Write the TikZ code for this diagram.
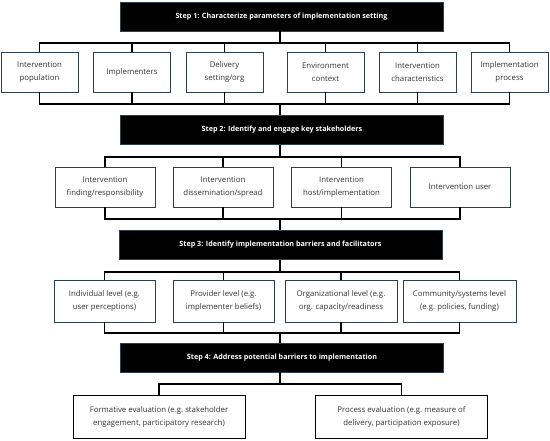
\documentclass[tikz,border=0pt]{standalone}
\usepackage{fontspec}
\setmainfont{Open Sans}
\definecolor{boxedge}{HTML}{2B3F4F}
\definecolor{boxtext}{HTML}{333333}
\begin{document}
\begin{tikzpicture}[x=1pt,y=-1pt,
  stepbox/.style={fill=black,draw=boxedge,line width=0.6pt,minimum width=323pt,minimum height=29pt,text=white,font=\fontsize{7.2}{9}\selectfont\bfseries,inner sep=0pt},
  itembox/.style={fill=white,draw=boxedge,line width=0.8pt,minimum height=40pt,align=center,text=boxtext,font=\fontsize{7.8}{13}\selectfont,inner sep=1pt},
  conn/.style={draw=black,line width=1.2pt}]
\useasboundingbox (0,0) rectangle (550,441);
% steps
\node[stepbox] (s1) at (281.5,16.5) {Step 1: Characterize parameters of implementation setting};
\node[stepbox] (s2) at (282,130) {Step 2: Identify and engage key stakeholders};
\node[stepbox] (s3) at (280.5,245) {Step 3: Identify implementation barriers and facilitators};
\node[stepbox] (s4) at (282,357.5) {Step 4: Address potential barriers to implementation};
% row 1
\node[itembox,minimum width=77pt] (a1) at (39.5,72) {Intervention\\population};
\node[itembox,minimum width=77pt] (a2) at (132,72) {Implementers};
\node[itembox,minimum width=77pt] (a3) at (224.5,72) {Delivery\\setting/org};
\node[itembox,minimum width=77pt] (a4) at (325.5,72) {Environment\\context};
\node[itembox,minimum width=77pt] (a5) at (417.5,72) {Intervention\\characteristics};
\node[itembox,minimum width=77pt] (a6) at (509.5,72) {Implementation\\process};
% row 2
\node[itembox,minimum width=100pt] (b1) at (105,187) {Intervention\\finding/responsibility};
\node[itembox,minimum width=100pt] (b2) at (223,187) {Intervention\\dissemination/spread};
\node[itembox,minimum width=100pt] (b3) at (341.5,187) {Intervention\\host/implementation};
\node[itembox,minimum width=100pt] (b4) at (460,187) {Intervention user};
% row 3
\node[itembox,minimum width=101pt,minimum height=42pt] (c1) at (104.5,301) {Individual level (e.g.\\user perceptions)};
\node[itembox,minimum width=101pt,minimum height=42pt] (c2) at (223.5,301) {Provider level (e.g.\\implementer beliefs)};
\node[itembox,minimum width=112pt,minimum height=42pt] (c3) at (341,301) {Organizational level (e.g.\\org. capacity/readiness};
\node[itembox,minimum width=113pt,minimum height=42pt] (c4) at (459.5,301) {Community/systems level\\(e.g.\ policies, funding)};
% row 4
\node[itembox,draw=black,minimum width=172pt,minimum height=43pt] (d1) at (159,416.5) {Formative evaluation (e.g.\ stakeholder\\engagement, participatory research)};
\node[itembox,draw=black,minimum width=172pt,minimum height=43pt] (d2) at (401.5,416.5) {Process evaluation (e.g.\ measure of\\delivery, participation exposure)};
% bus coordinates
\coordinate (t1) at (280,43);
\coordinate (u1) at (280,104);
\coordinate (t2) at (280,157);
\coordinate (u2) at (280,219);
\coordinate (t3) at (280,272);
\coordinate (u3) at (280,333);
\coordinate (t4) at (280,384);
% row 1 connectors
\draw[conn] (s1.south -| t1) -- (t1);
\draw[conn] (a1.north) -- (a1.north |- t1) -- (a6.north |- t1) -- (a6.north);
\foreach \n in {a2,a3,a4,a5} \draw[conn] (\n.north) -- (\n.north |- t1);
\draw[conn] (a1.south) -- (a1.south |- u1) -- (a6.south |- u1) -- (a6.south);
\foreach \n in {a2,a3,a4,a5} \draw[conn] (\n.south) -- (\n.south |- u1);
\draw[conn] (u1) -- (s2.north -| u1);
% row 2
\draw[conn] (s2.south -| t2) -- (t2);
\draw[conn] (b1.north) -- (b1.north |- t2) -- (b4.north |- t2) -- (b4.north);
\foreach \n in {b2,b3} \draw[conn] (\n.north) -- (\n.north |- t2);
\draw[conn] (b1.south) -- (b1.south |- u2) -- (b4.south |- u2) -- (b4.south);
\foreach \n in {b2,b3} \draw[conn] (\n.south) -- (\n.south |- u2);
\draw[conn] (u2) -- (s3.north -| u2);
% row 3
\draw[conn] (s3.south -| t3) -- (t3);
\draw[conn] (c1.north) -- (c1.north |- t3) -- (c4.north |- t3) -- (c4.north);
\foreach \n in {c2,c3} \draw[conn] (\n.north) -- (\n.north |- t3);
\draw[conn] (c1.south) -- (c1.south |- u3) -- (c4.south |- u3) -- (c4.south);
\foreach \n in {c2,c3} \draw[conn] (\n.south) -- (\n.south |- u3);
\draw[conn] (u3) -- (s4.north -| u3);
% row 4
\draw[conn] (s4.south -| t4) -- (t4);
\draw[conn] (d1.north) -- (d1.north |- t4) -- (d2.north |- t4) -- (d2.north);
\end{tikzpicture}
\end{document}
